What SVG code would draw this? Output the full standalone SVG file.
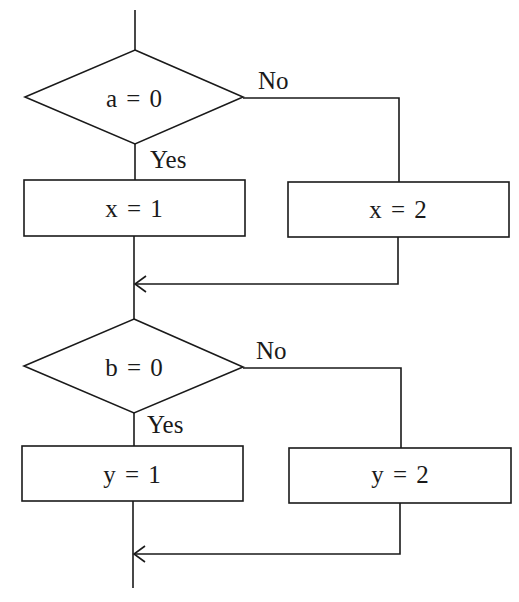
<svg xmlns="http://www.w3.org/2000/svg" width="519" height="602" viewBox="0 0 519 602">
<style>
.s{fill:none;stroke:#1a1a1a;stroke-width:1.6}
.b{fill:#fff;stroke:#1a1a1a;stroke-width:1.6}
.t{font-family:"Liberation Serif",serif;font-size:25px;fill:#1a1a1a}
.c{text-anchor:middle;word-spacing:3px}
</style>
<defs>
<marker id="ah" markerWidth="14" markerHeight="18" refX="12" refY="9" orient="auto" markerUnits="userSpaceOnUse">
<path d="M1,1 L12,9 L1,17" fill="none" stroke="#1a1a1a" stroke-width="1.6"/>
</marker>
</defs>
<rect width="519" height="602" fill="#fff"/>
<g id="connectors">
<path class="s" d="M135,10 V50"/>
<path class="s" d="M135,144 V180"/>
<path class="s" d="M243,98 H399 V182"/>
<path class="s" d="M134,236 V319"/>
<path class="s" d="M398,237 V284 H135" marker-end="url(#ah)"/>
<path class="s" d="M134,413 V446"/>
<path class="s" d="M243,368 H401 V448"/>
<path class="s" d="M133,501 V588"/>
<path class="s" d="M400,503 V554 H134" marker-end="url(#ah)"/>
<text class="t" x="258" y="89">No</text>
<text class="t" x="150" y="168">Yes</text>
<text class="t" x="256" y="359">No</text>
<text class="t" x="147" y="433">Yes</text>
</g>
<g id="d1">
<polygon class="b" points="135,50 243,97 135,144 25,97"/>
<text class="t c" x="134" y="107">a = 0</text>
</g>
<g id="b1">
<rect class="b" x="24" y="180" width="221" height="56"/>
<text class="t c" x="134" y="217">x = 1</text>
</g>
<g id="b2">
<rect class="b" x="288" y="182" width="221" height="55"/>
<text class="t c" x="398" y="218">x = 2</text>
</g>
<g id="d2">
<polygon class="b" points="134,319 243,367 134,413 24,366"/>
<text class="t c" x="134" y="376">b = 0</text>
</g>
<g id="b3">
<rect class="b" x="22" y="446" width="221" height="55"/>
<text class="t c" x="132" y="483">y = 1</text>
</g>
<g id="b4">
<rect class="b" x="289" y="448" width="222" height="55"/>
<text class="t c" x="400" y="483">y = 2</text>
</g>
</svg>
